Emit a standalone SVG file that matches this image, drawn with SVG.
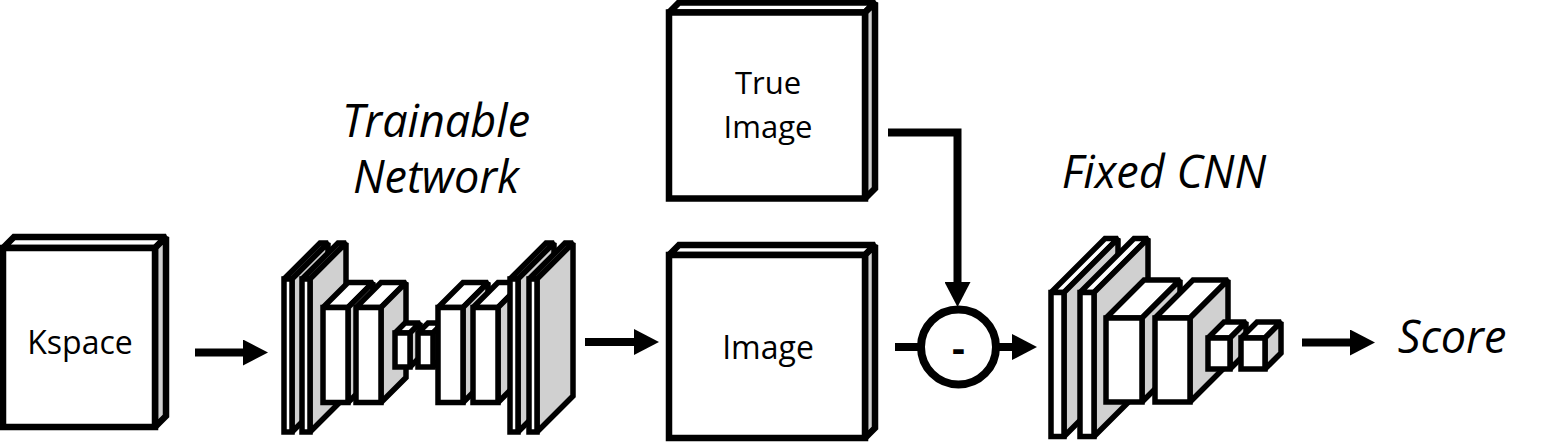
<svg xmlns="http://www.w3.org/2000/svg" width="1543" height="443" viewBox="0 0 1543 443">
<style>
  .box polygon, .box rect { stroke:#000; stroke-width:6.5; stroke-linejoin:miter; stroke-miterlimit:2; }
  .net polygon, .net rect { stroke:#000; stroke-width:5.5; stroke-linejoin:miter; stroke-miterlimit:2; }
  .w { fill:#fff; }
  .g { fill:#d0d0d0; }
  .lbl { font-family:"Open Sans","Noto Sans","Liberation Sans",sans-serif; fill:#000; text-anchor:middle; }
  .it { font-family:"Open Sans","Noto Sans","Liberation Sans",sans-serif; font-style:italic; fill:#000; text-anchor:middle; font-size:45px; }
  .con { stroke:#000; stroke-width:8; fill:none; }
</style>
<defs>
  <marker id="ah" markerUnits="userSpaceOnUse" markerWidth="25" markerHeight="26" viewBox="0 0 25 26" refX="0" refY="13" orient="auto">
    <path d="M0,0 L25,13 L0,26 Z" fill="#000"/>
  </marker>
</defs>
<rect width="1543" height="443" fill="#fff"/>

<g id="kspace" class="box">
  <polygon class="w" points="3,248 14,237 166,237 155,248"/>
  <polygon class="g" points="155,248 166,237 166,416 155,427"/>
  <rect class="w" x="3" y="248" width="152" height="179"/>
  <text class="lbl" x="80" y="354" font-size="32" stroke="none">Kspace</text>
</g>

<g id="true-image" class="box">
  <polygon class="w" points="669,12.5 679,2.5 875,2.5 865,12.5"/>
  <polygon class="g" points="865,12.5 875,2.5 875,188.5 865,198.5"/>
  <rect class="w" x="669" y="12.5" width="196" height="186"/>
  <text class="lbl" x="768" y="94" font-size="31" stroke="none">True</text>
  <text class="lbl" x="768" y="138" font-size="31" stroke="none">Image</text>
</g>

<g id="image" class="box">
  <polygon class="w" points="669,255 679,245 875,245 865,255"/>
  <polygon class="g" points="865,255 875,245 875,428 865,438"/>
  <rect class="w" x="669" y="255" width="196" height="183"/>
  <text class="lbl" x="768" y="359" font-size="32" stroke="none">Image</text>
</g>

<g id="trainable-network" class="net">
  <polygon class="w" points="284,279 320,243 328,243 292,279"/>
  <polygon class="g" points="292,279 328,243 328,396 292,432"/>
  <rect class="w" x="284" y="279" width="8" height="153"/>
  <polygon class="w" points="302,279 338,243 346,243 310,279"/>
  <polygon class="g" points="310,279 346,243 346,396 310,432"/>
  <rect class="w" x="302" y="279" width="8" height="153"/>
  <polygon class="w" points="323,307.5 348,282.5 373,282.5 348,307.5"/>
  <polygon class="g" points="348,307.5 373,282.5 373,377.5 348,402.5"/>
  <rect class="w" x="323" y="307.5" width="25" height="95"/>
  <polygon class="w" points="356,307.5 381,282.5 406,282.5 381,307.5"/>
  <polygon class="g" points="381,307.5 406,282.5 406,377.5 381,402.5"/>
  <rect class="w" x="356" y="307.5" width="25" height="95"/>
  <polygon class="w" points="395,333 405,323 420,323 410,333"/>
  <polygon class="g" points="410,333 420,323 420,357 410,367"/>
  <rect class="w" x="395" y="333" width="15" height="34"/>
  <polygon class="w" points="418,333 428,323 443,323 433,333"/>
  <polygon class="g" points="433,333 443,323 443,357 433,367"/>
  <rect class="w" x="418" y="333" width="15" height="34"/>
  <polygon class="w" points="438,307.5 463,282.5 488,282.5 463,307.5"/>
  <polygon class="g" points="463,307.5 488,282.5 488,377.5 463,402.5"/>
  <rect class="w" x="438" y="307.5" width="25" height="95"/>
  <polygon class="w" points="473,307.5 498,282.5 523,282.5 498,307.5"/>
  <polygon class="g" points="498,307.5 523,282.5 523,377.5 498,402.5"/>
  <rect class="w" x="473" y="307.5" width="25" height="95"/>
  <polygon class="w" points="510,279 546,243 554,243 518,279"/>
  <polygon class="g" points="518,279 554,243 554,396 518,432"/>
  <rect class="w" x="510" y="279" width="8" height="153"/>
  <polygon class="w" points="529,279 565,243 573,243 537,279"/>
  <polygon class="g" points="537,279 573,243 573,396 537,432"/>
  <rect class="w" x="529" y="279" width="8" height="153"/>
  <text class="it" x="436" y="137" stroke="none">Trainable</text>
  <text class="it" x="436" y="193" stroke="none">Network</text>
</g>

<g id="subtract">
  <circle cx="958.5" cy="347" r="37.5" fill="#fff" stroke="#000" stroke-width="8"/>
  <text class="lbl" x="958.5" y="362" font-size="40" font-weight="bold">-</text>
</g>

<g id="fixed-cnn" class="net">
  <polygon class="w" points="1051,292.5 1105,238.5 1118,238.5 1064,292.5"/>
  <polygon class="g" points="1064,292.5 1118,238.5 1118,382.5 1064,436.5"/>
  <rect class="w" x="1051" y="292.5" width="13" height="144"/>
  <polygon class="w" points="1080,292.5 1134,238.5 1148,238.5 1094,292.5"/>
  <polygon class="g" points="1094,292.5 1148,238.5 1148,382.5 1094,436.5"/>
  <rect class="w" x="1080" y="292.5" width="14" height="144"/>
  <polygon class="w" points="1106,318 1144,280 1180,280 1142,318"/>
  <polygon class="g" points="1142,318 1180,280 1180,364 1142,402"/>
  <rect class="w" x="1106" y="318" width="36" height="84"/>
  <polygon class="w" points="1155,318 1193,280 1228,280 1190,318"/>
  <polygon class="g" points="1190,318 1228,280 1228,364 1190,402"/>
  <rect class="w" x="1155" y="318" width="35" height="84"/>
  <polygon class="w" points="1208,338 1224,322 1246,322 1230,338"/>
  <polygon class="g" points="1230,338 1246,322 1246,353 1230,369"/>
  <rect class="w" x="1208" y="338" width="22" height="31"/>
  <polygon class="w" points="1241,338 1257,322 1281,322 1265,338"/>
  <polygon class="g" points="1265,338 1281,322 1281,353 1265,369"/>
  <rect class="w" x="1241" y="338" width="24" height="31"/>
  <text class="it" x="1164" y="188" stroke="none">Fixed CNN</text>
</g>

<g id="score">
  <text class="it" x="1452" y="353">Score</text>
</g>

<g id="connectors">
  <line class="con" x1="195" y1="352.5" x2="243" y2="352.5" marker-end="url(#ah)"/>
  <line class="con" x1="585" y1="342" x2="634" y2="342" marker-end="url(#ah)"/>
  <path class="con" d="M888,132.5 H957.5 V282" stroke-linejoin="miter" stroke-width="9" marker-end="url(#ah)"/>
  <line class="con" x1="895" y1="347" x2="920" y2="347"/>
  <line class="con" x1="997" y1="347" x2="1012" y2="347" marker-end="url(#ah)"/>
  <line class="con" x1="1302" y1="342.5" x2="1350" y2="342.5" marker-end="url(#ah)"/>
</g>
</svg>
